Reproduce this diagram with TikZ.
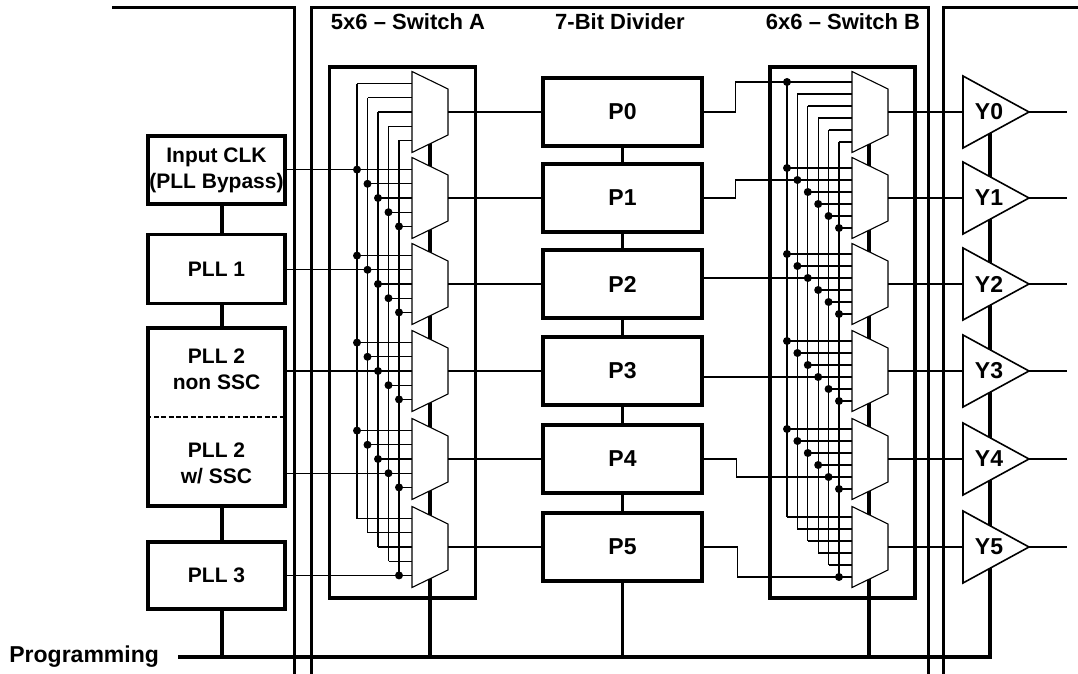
\documentclass[tikz,border=0pt]{standalone}
\usepackage{fontspec}
\setmainfont{Liberation Sans}
\begin{document}
\begin{tikzpicture}[x=0.5pt,y=-0.5pt,
  font=\fontsize{10.5}{13}\selectfont\bfseries,
  big/.style={font=\fontsize{11.5}{13}\selectfont\bfseries},
  head/.style={font=\fontsize{11}{13}\selectfont\bfseries},
  wire/.style={line width=0.55pt},
  frame/.style={line width=1.5pt},
  spine/.style={line width=1.8pt},
  blk/.style={draw, line width=1.6pt, fill=white, minimum width=68.5pt, align=center, inner sep=0pt},
  pbox/.style={draw, line width=1.6pt, fill=white, minimum width=79.5pt, minimum height=34pt, inner sep=0pt, big},
  swbox/.style={draw, line width=1.6pt, minimum height=265.5pt, inner sep=0pt},
  mux/.style={draw, line width=0.55pt, fill=white},
  buf/.style={draw, line width=0.8pt, fill=white},
  dot/.style={circle, fill=black, inner sep=0pt, minimum size=4pt},
  lbl/.style={inner sep=0pt, align=center}
]
\useasboundingbox (0,0) rectangle (1078,674);

% frames
\draw[frame] (112,7.5) -- (294,7.5) -- (294,674);
\draw[frame] (311,674) -- (311,7.5) -- (928,7.5) -- (928,674);
\draw[frame] (943,674) -- (943,7.5) -- (1078,7.5);

% headings
\node[lbl, head] (hA) at (408,22) {5x6 – Switch A};
\node[lbl, head] (hD) at (620,22) {7-Bit Divider};
\node[lbl, head] (hB) at (843,22) {6x6 – Switch B};

% coordinates
\foreach \c [count=\k from 0] in {112,198,284,371,459,547}{
  \coordinate (ma\k-out) at (448,\c);
  \coordinate (mb\k-out) at (888,\c);
  \coordinate (y\k-in) at (963,\c);
  \coordinate (y\k-tip) at (1029,\c);
  \coordinate (y\k-end) at (1067,\c);
  \foreach \j in {0,...,4}{
    \coordinate (ra-\k-\j) at ({357+10.5*\j},{\c+14.2*(\j-2)});
    \coordinate (la-\k-\j) at (412,{\c+14.2*(\j-2)});
  }
  \foreach \j in {0,...,5}{
    \coordinate (rb-\k-\j) at ({787+10.4*\j},{\c+12*(\j-2.5)});
    \coordinate (lb-\k-\j) at (852,{\c+12*(\j-2.5)});
  }
}
\coordinate (busL) at (178,657);
\coordinate (busR) at (990,657);
\coordinate (stk) at (222,657);
\coordinate (spA) at (430,657);
\coordinate (spB) at (869,657);

% programming bus and spines
\node[lbl, big, anchor=west] (prog) at (9,657) {Programming};
\draw[spine] (busL) -- (busR) -- (990,112);
\draw[spine] (spA) -- (430,112);
\draw[spine] (spB) -- (869,112);

% switch boxes
\node[swbox, minimum width=73pt] (swA) at (402.5,332.5) {};
\node[swbox, minimum width=72.5pt] (swB) at (842.5,332.5) {};

% switch A wiring
\foreach \k in {0,...,5}{\foreach \j in {0,...,4}{\draw[wire] (ra-\k-\j) -- (la-\k-\j);}}
\foreach \j in {0,...,4}{\draw[wire] (ra-0-\j) -- (ra-5-\j);}
% switch B wiring
\foreach \k in {0,...,5}{\foreach \j in {0,...,5}{\draw[wire] (rb-\k-\j) -- (lb-\k-\j);}}
\foreach \j in {0,...,5}{\draw[wire] (rb-0-\j) -- (rb-5-\j);}

% muxes
\foreach \c [count=\k from 0] in {112,198,284,371,459,547}{
  \draw[mux] (412,{\c-40.5}) -- (448,{\c-23}) -- (448,{\c+23}) -- (412,{\c+40.5}) -- cycle;
  \draw[mux] (852,{\c-40.5}) -- (888,{\c-23}) -- (888,{\c+23}) -- (852,{\c+40.5}) -- cycle;
}

% dots
\foreach \k in {1,...,4}{\foreach \j in {0,...,4}{\node[dot] (da-\k-\j) at (ra-\k-\j) {};}}
\node[dot] (da-5-4) at (ra-5-4) {};
\foreach \k in {1,...,4}{\foreach \j in {0,...,5}{\node[dot] (db-\k-\j) at (rb-\k-\j) {};}}
\node[dot] (db-0-0) at (rb-0-0) {};
\node[dot] (db-5-5) at (rb-5-5) {};

% left blocks
\node[blk, minimum height=34pt] (clk) at (216.5,170) {Input CLK\\(PLL Bypass)};
\node[blk, minimum height=34.5pt] (pll1) at (216.5,269) {PLL 1};
\node[blk, minimum height=89pt] (pll2) at (216.5,417) {};
\draw[wire, dash pattern=on 2.5pt off 1.2pt] (pll2.west) -- (pll2.east);
\node[lbl] (pll2a) at (216.5,369) {PLL 2\\non SSC};
\node[lbl] (pll2b) at (216.5,463) {PLL 2\\w/ SSC};
\node[blk, minimum height=33.5pt] (pll3) at (216.5,575.5) {PLL 3};
\draw[spine] (clk.south -| stk) -- (pll1.north -| stk);
\draw[spine] (pll1.south -| stk) -- (pll2.north -| stk);
\draw[spine] (pll2.south -| stk) -- (pll3.north -| stk);
\draw[spine] (pll3.south -| stk) -- (stk);

% inputs to switch A
\draw[wire] (clk.east |- la-1-0) -- (la-1-0);
\draw[wire] (pll1.east |- la-2-1) -- (la-2-1);
\draw[wire] (pll2.east |- la-3-2) -- (la-3-2);
\draw[wire] (pll2.east |- la-4-3) -- (la-4-3);
\draw[wire] (pll3.east |- la-5-4) -- (la-5-4);

% divider blocks
\foreach \c [count=\k from 0] in {112,198,284,371,459,547}{
  \node[pbox] (p\k) at (622.5,\c) {P\k};
  \draw[wire] (ma\k-out) -- (p\k.west);
}
\foreach \a/\b in {0/1,1/2,2/3,3/4,4/5}{\draw[spine] (p\a.south) -- (p\b.north);}
\draw[spine] (p5.south) -- (p5.south |- busL);

% divider to switch B
\draw[wire] (p0.east) -- ++(32,0) |- (lb-0-0);
\draw[wire] (p1.east) -- ++(32,0) |- (lb-1-1);
\draw[wire] (p2.east |- lb-2-2) -- (lb-2-2);
\draw[wire] (p3.east |- lb-3-3) -- (lb-3-3);
\draw[wire] (p4.east) -- ++(33,0) |- (lb-4-4);
\draw[wire] (p5.east) -- ++(34,0) |- (lb-5-5);

% output buffers
\foreach \c [count=\k from 0] in {112,198,284,371,459,547}{
  \draw[wire] (mb\k-out) -- (y\k-in);
  \draw[buf] (963,{\c-36}) -- (y\k-tip) -- (963,{\c+36}) -- cycle;
  \node[lbl, big] (yl\k) at (989,\c) {Y\k};
  \draw[wire] (y\k-tip) -- (y\k-end);
}
\end{tikzpicture}
\end{document}
